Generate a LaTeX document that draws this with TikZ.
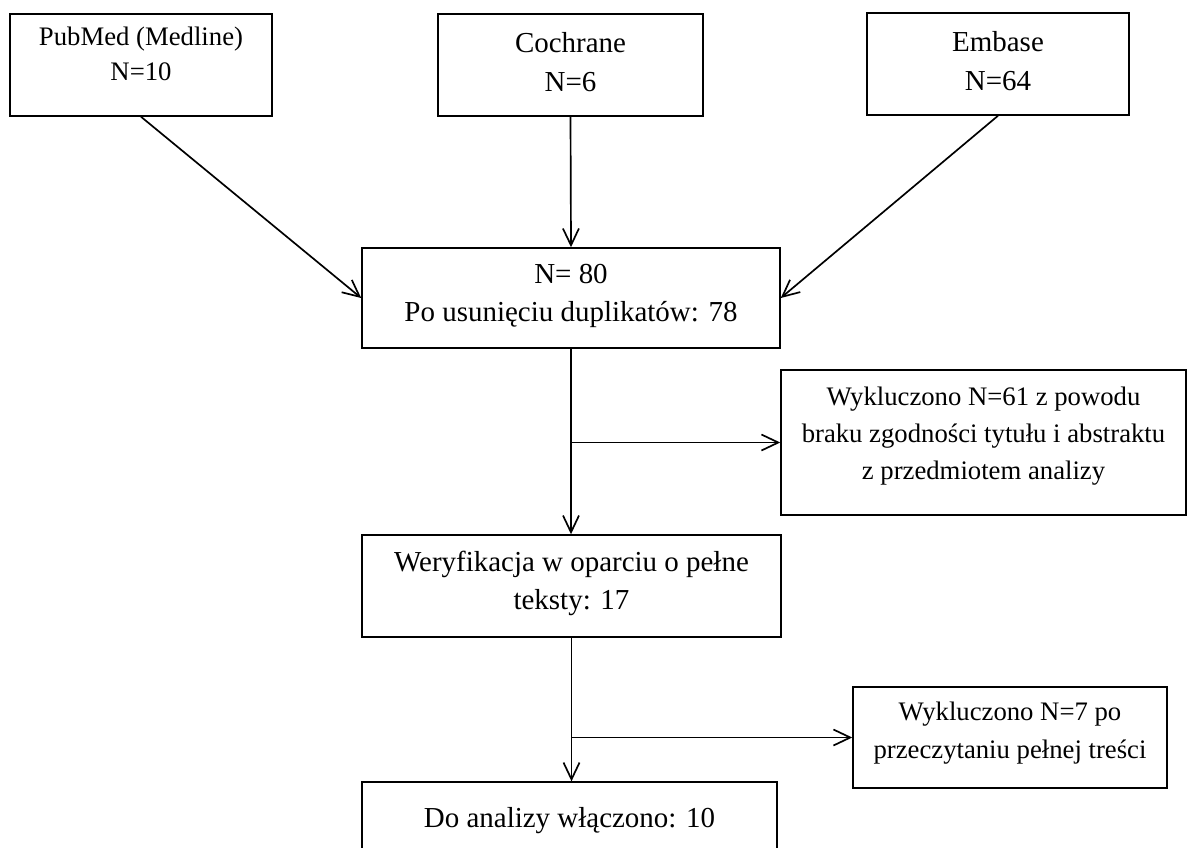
\documentclass[tikz,border=0pt]{standalone}
\usepackage{fontspec}
\setmainfont{Liberation Serif}
\usepackage{tikz}
\usetikzlibrary{arrows.meta,positioning,calc}

\begin{document}
\begin{tikzpicture}[
    box/.style={draw,line width=1.1pt,align=center,inner xsep=2pt,inner ysep=0pt},
    big/.style={font=\fontsize{20.6}{27.7}\selectfont},
    small/.style={font=\fontsize{19}{26.6}\selectfont},
    arr/.style={line width=1.2pt,-{Straight Barb[length=0.42cm,width=0.4cm]}}]

      \useasboundingbox (0,0) rectangle (29.675,-21.175);

      % source databases
      \node[box,font=\fontsize{19}{25}\selectfont,minimum width=6.55cm,
            text height=47.5pt,text depth=25pt] (pub) at (3.525,-1.625)
            {PubMed (Medline)\\N=10};
      \node[box,big,minimum width=6.625cm,
            text height=55.4pt,text depth=17.1pt] (coch) at (14.2625,-1.625)
            {Cochrane\\N=6};
      \node[box,big,minimum width=6.55cm,
            text height=55.4pt,text depth=17.1pt] (emb) at (24.95,-1.6)
            {Embase\\N=64};

      % merged records
      \node[box,big,minimum width=10.45cm,
            text height=52.6pt,text depth=18.5pt] (merged) at (14.275,-7.45)
            {N= 80\\Po usunięciu duplikatów: 78};

      % first exclusion
      \node[box,small,minimum width=10.125cm,
            text height=78.1pt,text depth=25pt] (excl1) at (24.5875,-11.0625)
            {Wykluczono N=61 z powodu\\braku zgodności tytułu i abstraktu\\z przedmiotem analizy};

      % full texts
      \node[box,big,minimum width=10.475cm,
            text height=53.3pt,text depth=19.2pt] (full) at (14.2875,-14.65)
            {Weryfikacja w oparciu o pełne\\teksty: 17};

      % second exclusion
      \node[box,small,minimum width=7.85cm,
            text height=50.8pt,text depth=21.1pt] (excl2) at (25.25,-18.4375)
            {Wykluczono N=7 po\\przeczytaniu pełnej treści};

      % included
      \node[box,big,minimum width=10.375cm,
            text height=32pt,text depth=39pt] (incl) at (14.2375,-20.8)
            {Do analizy włączono: 10};

      % connectors
      \draw[arr] (pub.south) -- (merged.west);
      \draw[arr] (coch.south) -- (merged.north);
      \draw[arr] (emb.south) -- (merged.east);
      \draw[arr] (merged.south) -- (merged.south |- full.north);
      \draw[arr] (merged.south |- excl1.west) -- (excl1.west);
      \draw[arr] (full.south) -- (full.south |- incl.north);
      \draw[arr] (full.south |- excl2.west) -- (excl2.west);

    \end{tikzpicture}
\end{document}
